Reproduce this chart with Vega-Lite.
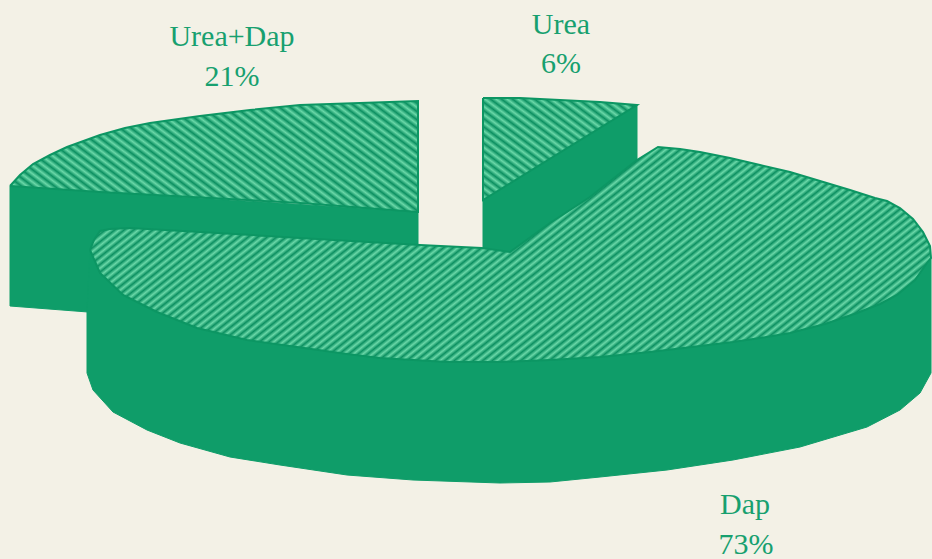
{"$schema":"https://vega.github.io/schema/vega-lite/v6.json","width":932,"height":559,"autosize":{"type":"none"},"padding":0,"background":"#f3f1e6","config":{"view":{"stroke":null}},
"encoding":{"x":{"field":"x","type":"quantitative","axis":null,"scale":{"domain":[0,932],"nice":false,"zero":false}},"y":{"field":"y","type":"quantitative","axis":null,"scale":{"domain":[0,559],"nice":false,"zero":false,"reverse":true}},"order":{"value":null}},
"layer":[
{"data":{"values":[{"x":10,"y":186},{"x":418,"y":212},{"x":418,"y":246},{"x":200,"y":250},{"x":88,"y":312},{"x":10,"y":306},{"x":10,"y":186}]},"mark":{"type":"line","filled":true,"fill":"#0f9d69","stroke":"#0f9d69","strokeWidth":1}},
{"data":{"values":[{"x":10,"y":186},{"x":20,"y":175},{"x":33,"y":164},{"x":50,"y":155},{"x":67,"y":147},{"x":100,"y":135},{"x":125,"y":128},{"x":150,"y":123},{"x":200,"y":116},{"x":250,"y":110},{"x":300,"y":105},{"x":360,"y":103},{"x":418,"y":101},{"x":418,"y":212},{"x":300,"y":203},{"x":100,"y":192},{"x":10,"y":186}]},"mark":{"type":"line","filled":true,"stroke":"#0c9663","strokeWidth":2,"fill":{"gradient":"linear","x1":-0.277,"y1":0,"x2":0.9143,"y2":-0.4321,"stops":[{"offset":0,"color":"#0b8f60"},{"offset":0.01,"color":"#6ad8a8"},{"offset":0.02,"color":"#0b8f60"},{"offset":0.03,"color":"#6ad8a8"},{"offset":0.04,"color":"#0b8f60"},{"offset":0.05,"color":"#6ad8a8"},{"offset":0.06,"color":"#0b8f60"},{"offset":0.07,"color":"#6ad8a8"},{"offset":0.08,"color":"#0b8f60"},{"offset":0.09,"color":"#6ad8a8"},{"offset":0.1,"color":"#0b8f60"},{"offset":0.11,"color":"#6ad8a8"},{"offset":0.12,"color":"#0b8f60"},{"offset":0.13,"color":"#6ad8a8"},{"offset":0.14,"color":"#0b8f60"},{"offset":0.15,"color":"#6ad8a8"},{"offset":0.16,"color":"#0b8f60"},{"offset":0.17,"color":"#6ad8a8"},{"offset":0.18,"color":"#0b8f60"},{"offset":0.19,"color":"#6ad8a8"},{"offset":0.2,"color":"#0b8f60"},{"offset":0.21,"color":"#6ad8a8"},{"offset":0.22,"color":"#0b8f60"},{"offset":0.23,"color":"#6ad8a8"},{"offset":0.24,"color":"#0b8f60"},{"offset":0.25,"color":"#6ad8a8"},{"offset":0.26,"color":"#0b8f60"},{"offset":0.27,"color":"#6ad8a8"},{"offset":0.28,"color":"#0b8f60"},{"offset":0.29,"color":"#6ad8a8"},{"offset":0.3,"color":"#0b8f60"},{"offset":0.31,"color":"#6ad8a8"},{"offset":0.32,"color":"#0b8f60"},{"offset":0.33,"color":"#6ad8a8"},{"offset":0.34,"color":"#0b8f60"},{"offset":0.35,"color":"#6ad8a8"},{"offset":0.36,"color":"#0b8f60"},{"offset":0.37,"color":"#6ad8a8"},{"offset":0.38,"color":"#0b8f60"},{"offset":0.39,"color":"#6ad8a8"},{"offset":0.4,"color":"#0b8f60"},{"offset":0.41,"color":"#6ad8a8"},{"offset":0.42,"color":"#0b8f60"},{"offset":0.43,"color":"#6ad8a8"},{"offset":0.44,"color":"#0b8f60"},{"offset":0.45,"color":"#6ad8a8"},{"offset":0.46,"color":"#0b8f60"},{"offset":0.47,"color":"#6ad8a8"},{"offset":0.48,"color":"#0b8f60"},{"offset":0.49,"color":"#6ad8a8"},{"offset":0.5,"color":"#0b8f60"},{"offset":0.51,"color":"#6ad8a8"},{"offset":0.52,"color":"#0b8f60"},{"offset":0.53,"color":"#6ad8a8"},{"offset":0.54,"color":"#0b8f60"},{"offset":0.55,"color":"#6ad8a8"},{"offset":0.56,"color":"#0b8f60"},{"offset":0.57,"color":"#6ad8a8"},{"offset":0.58,"color":"#0b8f60"},{"offset":0.59,"color":"#6ad8a8"},{"offset":0.6,"color":"#0b8f60"},{"offset":0.61,"color":"#6ad8a8"},{"offset":0.62,"color":"#0b8f60"},{"offset":0.63,"color":"#6ad8a8"},{"offset":0.64,"color":"#0b8f60"},{"offset":0.65,"color":"#6ad8a8"},{"offset":0.66,"color":"#0b8f60"},{"offset":0.67,"color":"#6ad8a8"},{"offset":0.68,"color":"#0b8f60"},{"offset":0.69,"color":"#6ad8a8"},{"offset":0.7,"color":"#0b8f60"},{"offset":0.71,"color":"#6ad8a8"},{"offset":0.72,"color":"#0b8f60"},{"offset":0.73,"color":"#6ad8a8"},{"offset":0.74,"color":"#0b8f60"},{"offset":0.75,"color":"#6ad8a8"},{"offset":0.76,"color":"#0b8f60"},{"offset":0.77,"color":"#6ad8a8"},{"offset":0.78,"color":"#0b8f60"},{"offset":0.79,"color":"#6ad8a8"},{"offset":0.8,"color":"#0b8f60"},{"offset":0.81,"color":"#6ad8a8"},{"offset":0.82,"color":"#0b8f60"},{"offset":0.83,"color":"#6ad8a8"},{"offset":0.84,"color":"#0b8f60"},{"offset":0.85,"color":"#6ad8a8"},{"offset":0.86,"color":"#0b8f60"},{"offset":0.87,"color":"#6ad8a8"},{"offset":0.88,"color":"#0b8f60"},{"offset":0.89,"color":"#6ad8a8"},{"offset":0.9,"color":"#0b8f60"},{"offset":0.91,"color":"#6ad8a8"},{"offset":0.92,"color":"#0b8f60"},{"offset":0.93,"color":"#6ad8a8"},{"offset":0.94,"color":"#0b8f60"},{"offset":0.95,"color":"#6ad8a8"},{"offset":0.96,"color":"#0b8f60"},{"offset":0.97,"color":"#6ad8a8"},{"offset":0.98,"color":"#0b8f60"},{"offset":0.99,"color":"#6ad8a8"},{"offset":1,"color":"#0b8f60"}]}}},
{"data":{"values":[{"x":637,"y":105},{"x":637,"y":165},{"x":515,"y":255},{"x":483,"y":250},{"x":483,"y":200},{"x":637,"y":105}]},"mark":{"type":"line","filled":true,"fill":"#0f9d69","stroke":"#0f9d69","strokeWidth":1}},
{"data":{"values":[{"x":483,"y":98},{"x":520,"y":98},{"x":560,"y":100},{"x":600,"y":102},{"x":637,"y":105},{"x":483,"y":200},{"x":483,"y":98}]},"mark":{"type":"line","filled":true,"stroke":"#0c9663","strokeWidth":2,"fill":{"gradient":"linear","x1":0,"y1":1,"x2":0.9968,"y2":0.1132,"stops":[{"offset":0,"color":"#0b8f60"},{"offset":0.02,"color":"#6ad8a8"},{"offset":0.04,"color":"#0b8f60"},{"offset":0.06,"color":"#6ad8a8"},{"offset":0.08,"color":"#0b8f60"},{"offset":0.1,"color":"#6ad8a8"},{"offset":0.12,"color":"#0b8f60"},{"offset":0.14,"color":"#6ad8a8"},{"offset":0.16,"color":"#0b8f60"},{"offset":0.18,"color":"#6ad8a8"},{"offset":0.2,"color":"#0b8f60"},{"offset":0.22,"color":"#6ad8a8"},{"offset":0.24,"color":"#0b8f60"},{"offset":0.26,"color":"#6ad8a8"},{"offset":0.28,"color":"#0b8f60"},{"offset":0.3,"color":"#6ad8a8"},{"offset":0.32,"color":"#0b8f60"},{"offset":0.34,"color":"#6ad8a8"},{"offset":0.36,"color":"#0b8f60"},{"offset":0.38,"color":"#6ad8a8"},{"offset":0.4,"color":"#0b8f60"},{"offset":0.42,"color":"#6ad8a8"},{"offset":0.44,"color":"#0b8f60"},{"offset":0.46,"color":"#6ad8a8"},{"offset":0.48,"color":"#0b8f60"},{"offset":0.5,"color":"#6ad8a8"},{"offset":0.52,"color":"#0b8f60"},{"offset":0.54,"color":"#6ad8a8"},{"offset":0.56,"color":"#0b8f60"},{"offset":0.58,"color":"#6ad8a8"},{"offset":0.6,"color":"#0b8f60"},{"offset":0.62,"color":"#6ad8a8"},{"offset":0.64,"color":"#0b8f60"},{"offset":0.66,"color":"#6ad8a8"},{"offset":0.68,"color":"#0b8f60"},{"offset":0.7,"color":"#6ad8a8"},{"offset":0.72,"color":"#0b8f60"},{"offset":0.74,"color":"#6ad8a8"},{"offset":0.76,"color":"#0b8f60"},{"offset":0.78,"color":"#6ad8a8"},{"offset":0.8,"color":"#0b8f60"},{"offset":0.82,"color":"#6ad8a8"},{"offset":0.84,"color":"#0b8f60"},{"offset":0.86,"color":"#6ad8a8"},{"offset":0.88,"color":"#0b8f60"},{"offset":0.9,"color":"#6ad8a8"},{"offset":0.92,"color":"#0b8f60"},{"offset":0.94,"color":"#6ad8a8"},{"offset":0.96,"color":"#0b8f60"},{"offset":0.98,"color":"#6ad8a8"},{"offset":1,"color":"#0b8f60"}]}}},
{"data":{"values":[{"x":90,"y":250},{"x":931,"y":258},{"x":931,"y":373},{"x":920,"y":393},{"x":900,"y":410},{"x":867,"y":427},{"x":800,"y":447},{"x":733,"y":460},{"x":667,"y":470},{"x":600,"y":477},{"x":550,"y":482},{"x":500,"y":483},{"x":413,"y":480},{"x":347,"y":475},{"x":280,"y":465},{"x":230,"y":457},{"x":180,"y":443},{"x":147,"y":430},{"x":113,"y":412},{"x":93,"y":390},{"x":87,"y":373},{"x":87,"y":312},{"x":90,"y":250}]},"mark":{"type":"line","filled":true,"fill":"#0f9d69","stroke":"#0f9d69","strokeWidth":1}},
{"data":{"values":[{"x":90,"y":250},{"x":94,"y":240},{"x":100,"y":231},{"x":110,"y":229},{"x":130,"y":228},{"x":200,"y":232},{"x":300,"y":238},{"x":420,"y":245},{"x":482,"y":248},{"x":510,"y":252},{"x":550,"y":223},{"x":590,"y":197},{"x":637,"y":160},{"x":658,"y":147},{"x":680,"y":149},{"x":700,"y":152},{"x":730,"y":158},{"x":760,"y":165},{"x":790,"y":172},{"x":820,"y":181},{"x":850,"y":190},{"x":875,"y":198},{"x":887,"y":201},{"x":900,"y":208},{"x":913,"y":219},{"x":923,"y":232},{"x":930,"y":246},{"x":931,"y":258},{"x":927,"y":263},{"x":915,"y":280},{"x":897,"y":295},{"x":880,"y":304},{"x":857,"y":313},{"x":825,"y":324},{"x":790,"y":333},{"x":760,"y":338},{"x":733,"y":342},{"x":700,"y":346},{"x":650,"y":352},{"x":600,"y":357},{"x":550,"y":360},{"x":500,"y":362},{"x":447,"y":362},{"x":380,"y":358},{"x":347,"y":354},{"x":297,"y":347},{"x":247,"y":340},{"x":197,"y":328},{"x":157,"y":312},{"x":123,"y":295},{"x":100,"y":273},{"x":90,"y":250}]},"mark":{"type":"line","filled":true,"stroke":"#0c9663","strokeWidth":2,"fill":{"gradient":"linear","x1":0.1188,"y1":0,"x2":1.1426,"y2":0.3271,"stops":[{"offset":0,"color":"#0b8f60"},{"offset":0.005,"color":"#6ad8a8"},{"offset":0.01,"color":"#0b8f60"},{"offset":0.015,"color":"#6ad8a8"},{"offset":0.02,"color":"#0b8f60"},{"offset":0.025,"color":"#6ad8a8"},{"offset":0.03,"color":"#0b8f60"},{"offset":0.035,"color":"#6ad8a8"},{"offset":0.04,"color":"#0b8f60"},{"offset":0.045,"color":"#6ad8a8"},{"offset":0.05,"color":"#0b8f60"},{"offset":0.055,"color":"#6ad8a8"},{"offset":0.06,"color":"#0b8f60"},{"offset":0.065,"color":"#6ad8a8"},{"offset":0.07,"color":"#0b8f60"},{"offset":0.075,"color":"#6ad8a8"},{"offset":0.08,"color":"#0b8f60"},{"offset":0.085,"color":"#6ad8a8"},{"offset":0.09,"color":"#0b8f60"},{"offset":0.095,"color":"#6ad8a8"},{"offset":0.1,"color":"#0b8f60"},{"offset":0.105,"color":"#6ad8a8"},{"offset":0.11,"color":"#0b8f60"},{"offset":0.115,"color":"#6ad8a8"},{"offset":0.12,"color":"#0b8f60"},{"offset":0.125,"color":"#6ad8a8"},{"offset":0.13,"color":"#0b8f60"},{"offset":0.135,"color":"#6ad8a8"},{"offset":0.14,"color":"#0b8f60"},{"offset":0.145,"color":"#6ad8a8"},{"offset":0.15,"color":"#0b8f60"},{"offset":0.155,"color":"#6ad8a8"},{"offset":0.16,"color":"#0b8f60"},{"offset":0.165,"color":"#6ad8a8"},{"offset":0.17,"color":"#0b8f60"},{"offset":0.175,"color":"#6ad8a8"},{"offset":0.18,"color":"#0b8f60"},{"offset":0.185,"color":"#6ad8a8"},{"offset":0.19,"color":"#0b8f60"},{"offset":0.195,"color":"#6ad8a8"},{"offset":0.2,"color":"#0b8f60"},{"offset":0.205,"color":"#6ad8a8"},{"offset":0.21,"color":"#0b8f60"},{"offset":0.215,"color":"#6ad8a8"},{"offset":0.22,"color":"#0b8f60"},{"offset":0.225,"color":"#6ad8a8"},{"offset":0.23,"color":"#0b8f60"},{"offset":0.235,"color":"#6ad8a8"},{"offset":0.24,"color":"#0b8f60"},{"offset":0.245,"color":"#6ad8a8"},{"offset":0.25,"color":"#0b8f60"},{"offset":0.255,"color":"#6ad8a8"},{"offset":0.26,"color":"#0b8f60"},{"offset":0.265,"color":"#6ad8a8"},{"offset":0.27,"color":"#0b8f60"},{"offset":0.275,"color":"#6ad8a8"},{"offset":0.28,"color":"#0b8f60"},{"offset":0.285,"color":"#6ad8a8"},{"offset":0.29,"color":"#0b8f60"},{"offset":0.295,"color":"#6ad8a8"},{"offset":0.3,"color":"#0b8f60"},{"offset":0.305,"color":"#6ad8a8"},{"offset":0.31,"color":"#0b8f60"},{"offset":0.315,"color":"#6ad8a8"},{"offset":0.32,"color":"#0b8f60"},{"offset":0.325,"color":"#6ad8a8"},{"offset":0.33,"color":"#0b8f60"},{"offset":0.335,"color":"#6ad8a8"},{"offset":0.34,"color":"#0b8f60"},{"offset":0.345,"color":"#6ad8a8"},{"offset":0.35,"color":"#0b8f60"},{"offset":0.355,"color":"#6ad8a8"},{"offset":0.36,"color":"#0b8f60"},{"offset":0.365,"color":"#6ad8a8"},{"offset":0.37,"color":"#0b8f60"},{"offset":0.375,"color":"#6ad8a8"},{"offset":0.38,"color":"#0b8f60"},{"offset":0.385,"color":"#6ad8a8"},{"offset":0.39,"color":"#0b8f60"},{"offset":0.395,"color":"#6ad8a8"},{"offset":0.4,"color":"#0b8f60"},{"offset":0.405,"color":"#6ad8a8"},{"offset":0.41,"color":"#0b8f60"},{"offset":0.415,"color":"#6ad8a8"},{"offset":0.42,"color":"#0b8f60"},{"offset":0.425,"color":"#6ad8a8"},{"offset":0.43,"color":"#0b8f60"},{"offset":0.435,"color":"#6ad8a8"},{"offset":0.44,"color":"#0b8f60"},{"offset":0.445,"color":"#6ad8a8"},{"offset":0.45,"color":"#0b8f60"},{"offset":0.455,"color":"#6ad8a8"},{"offset":0.46,"color":"#0b8f60"},{"offset":0.465,"color":"#6ad8a8"},{"offset":0.47,"color":"#0b8f60"},{"offset":0.475,"color":"#6ad8a8"},{"offset":0.48,"color":"#0b8f60"},{"offset":0.485,"color":"#6ad8a8"},{"offset":0.49,"color":"#0b8f60"},{"offset":0.495,"color":"#6ad8a8"},{"offset":0.5,"color":"#0b8f60"},{"offset":0.505,"color":"#6ad8a8"},{"offset":0.51,"color":"#0b8f60"},{"offset":0.515,"color":"#6ad8a8"},{"offset":0.52,"color":"#0b8f60"},{"offset":0.525,"color":"#6ad8a8"},{"offset":0.53,"color":"#0b8f60"},{"offset":0.535,"color":"#6ad8a8"},{"offset":0.54,"color":"#0b8f60"},{"offset":0.545,"color":"#6ad8a8"},{"offset":0.55,"color":"#0b8f60"},{"offset":0.555,"color":"#6ad8a8"},{"offset":0.56,"color":"#0b8f60"},{"offset":0.565,"color":"#6ad8a8"},{"offset":0.57,"color":"#0b8f60"},{"offset":0.575,"color":"#6ad8a8"},{"offset":0.58,"color":"#0b8f60"},{"offset":0.585,"color":"#6ad8a8"},{"offset":0.59,"color":"#0b8f60"},{"offset":0.595,"color":"#6ad8a8"},{"offset":0.6,"color":"#0b8f60"},{"offset":0.605,"color":"#6ad8a8"},{"offset":0.61,"color":"#0b8f60"},{"offset":0.615,"color":"#6ad8a8"},{"offset":0.62,"color":"#0b8f60"},{"offset":0.625,"color":"#6ad8a8"},{"offset":0.63,"color":"#0b8f60"},{"offset":0.635,"color":"#6ad8a8"},{"offset":0.64,"color":"#0b8f60"},{"offset":0.645,"color":"#6ad8a8"},{"offset":0.65,"color":"#0b8f60"},{"offset":0.655,"color":"#6ad8a8"},{"offset":0.66,"color":"#0b8f60"},{"offset":0.665,"color":"#6ad8a8"},{"offset":0.67,"color":"#0b8f60"},{"offset":0.675,"color":"#6ad8a8"},{"offset":0.68,"color":"#0b8f60"},{"offset":0.685,"color":"#6ad8a8"},{"offset":0.69,"color":"#0b8f60"},{"offset":0.695,"color":"#6ad8a8"},{"offset":0.7,"color":"#0b8f60"},{"offset":0.705,"color":"#6ad8a8"},{"offset":0.71,"color":"#0b8f60"},{"offset":0.715,"color":"#6ad8a8"},{"offset":0.72,"color":"#0b8f60"},{"offset":0.725,"color":"#6ad8a8"},{"offset":0.73,"color":"#0b8f60"},{"offset":0.735,"color":"#6ad8a8"},{"offset":0.74,"color":"#0b8f60"},{"offset":0.745,"color":"#6ad8a8"},{"offset":0.75,"color":"#0b8f60"},{"offset":0.755,"color":"#6ad8a8"},{"offset":0.76,"color":"#0b8f60"},{"offset":0.765,"color":"#6ad8a8"},{"offset":0.77,"color":"#0b8f60"},{"offset":0.775,"color":"#6ad8a8"},{"offset":0.78,"color":"#0b8f60"},{"offset":0.785,"color":"#6ad8a8"},{"offset":0.79,"color":"#0b8f60"},{"offset":0.795,"color":"#6ad8a8"},{"offset":0.8,"color":"#0b8f60"},{"offset":0.805,"color":"#6ad8a8"},{"offset":0.81,"color":"#0b8f60"},{"offset":0.815,"color":"#6ad8a8"},{"offset":0.82,"color":"#0b8f60"},{"offset":0.825,"color":"#6ad8a8"},{"offset":0.83,"color":"#0b8f60"},{"offset":0.835,"color":"#6ad8a8"},{"offset":0.84,"color":"#0b8f60"},{"offset":0.845,"color":"#6ad8a8"},{"offset":0.85,"color":"#0b8f60"},{"offset":0.855,"color":"#6ad8a8"},{"offset":0.86,"color":"#0b8f60"},{"offset":0.865,"color":"#6ad8a8"},{"offset":0.87,"color":"#0b8f60"},{"offset":0.875,"color":"#6ad8a8"},{"offset":0.88,"color":"#0b8f60"},{"offset":0.885,"color":"#6ad8a8"},{"offset":0.89,"color":"#0b8f60"},{"offset":0.895,"color":"#6ad8a8"},{"offset":0.9,"color":"#0b8f60"},{"offset":0.905,"color":"#6ad8a8"},{"offset":0.91,"color":"#0b8f60"},{"offset":0.915,"color":"#6ad8a8"},{"offset":0.92,"color":"#0b8f60"},{"offset":0.925,"color":"#6ad8a8"},{"offset":0.93,"color":"#0b8f60"},{"offset":0.935,"color":"#6ad8a8"},{"offset":0.94,"color":"#0b8f60"},{"offset":0.945,"color":"#6ad8a8"},{"offset":0.95,"color":"#0b8f60"},{"offset":0.955,"color":"#6ad8a8"},{"offset":0.96,"color":"#0b8f60"},{"offset":0.965,"color":"#6ad8a8"},{"offset":0.97,"color":"#0b8f60"},{"offset":0.975,"color":"#6ad8a8"},{"offset":0.98,"color":"#0b8f60"},{"offset":0.985,"color":"#6ad8a8"},{"offset":0.99,"color":"#0b8f60"},{"offset":0.995,"color":"#6ad8a8"},{"offset":1,"color":"#0b8f60"}]}}},
{"data":{"values":[{"x":232,"y":37,"label":"Urea+Dap"},{"x":232,"y":77,"label":"21%"},{"x":561,"y":25,"label":"Urea"},{"x":561,"y":64,"label":"6%"},{"x":745,"y":505,"label":"Dap"},{"x":746,"y":545,"label":"73%"}]},"mark":{"type":"text","font":"Liberation Serif","fontSize":30,"color":"#17a06f","align":"center","baseline":"middle"},"encoding":{"text":{"field":"label"}}}
]}
